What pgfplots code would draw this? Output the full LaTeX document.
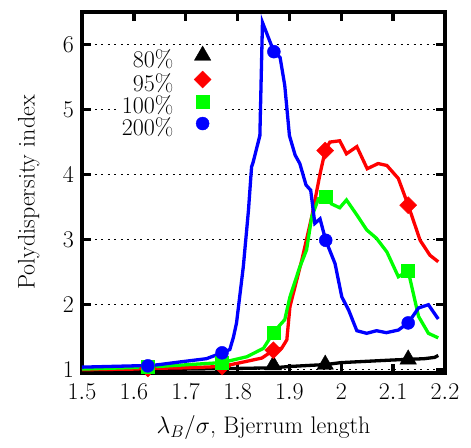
\RequirePackage{fix-cm}
\documentclass[border=0pt]{standalone}
\usepackage{pgfplots}
\pgfplotsset{compat=1.18}
\definecolor{gpred}{rgb}{1,0,0}
\definecolor{gpgreen}{rgb}{0,1,0}
\definecolor{gpblue}{rgb}{0,0,1}
\newcommand{\bigf}{\fontsize{24}{28}\selectfont}
\pgfplotsset{mk/.style={only marks,
  legend image code/.code={\path (0pt,0pt) (44pt,0pt); \draw[##1] plot coordinates {(27pt,7pt)};}}}
\begin{document}
\bigf
\begin{tikzpicture}
\begin{axis}[
  scale only axis, width=363pt, height=361pt,
  xmin=1.5, xmax=2.2, ymin=0.95, ymax=6.5,
  xtick={1.5,1.6,1.7,1.8,1.9,2,2.1,2.2},
  ytick={1,2,3,4,5,6},
  tick align=inside, major tick length=9pt,
  tick style={black, line width=3.5pt},
  axis line style={line width=4.5pt},
  ymajorgrids,
  major grid style={black, line width=0.8pt, dash pattern=on 2pt off 4.5pt},
  tick label style={font=\bigf},
  xticklabel style={yshift=-3pt},
  label style={font=\bigf},
  ylabel style={yshift=7pt},
  xlabel={$\lambda_B/\sigma$, Bjerrum length},
  ylabel={Polydispersity index},
  legend plot pos=right,
  legend cell align=right,
  legend style={at={(rel axis cs:0.383,0.909)}, anchor=north east, draw=none, fill=white,
    font=\bigf, row sep=-2.5pt, inner sep=1pt,
    nodes={inner ysep=0pt, inner xsep=2pt, text height=16pt, text depth=6pt}},
]
\coordinate (bl) at (rel axis cs:0,0);
\coordinate (tr) at (rel axis cs:1,1);
% 80%
\addplot[black, line width=3.3pt, no marks, forget plot] coordinates {
(1.500,1.00) (1.600,1.00) (1.700,1.01) (1.800,1.02) (1.870,1.03) (1.900,1.05)
(1.970,1.08) (2.000,1.11) (2.050,1.13) (2.100,1.15) (2.130,1.16) (2.160,1.17)
(2.180,1.19) (2.187,1.22)};
\addplot[mk, black, mark=triangle*, mark size=9.5pt] coordinates {
(1.627,1.00) (1.770,1.02) (1.869,1.07) (1.969,1.08) (2.129,1.16)};
\addlegendentry{80\%}
% 95%
\addplot[gpred, line width=3.3pt, no marks, forget plot] coordinates {
(1.500,1.00) (1.600,1.01) (1.627,1.02) (1.700,1.03) (1.770,1.05) (1.818,1.13)
(1.847,1.18) (1.869,1.30) (1.885,1.33) (1.895,1.46) (1.901,1.97) (1.924,2.69)
(1.943,3.35) (1.959,4.01) (1.969,4.37) (1.978,4.50) (1.997,4.52) (2.010,4.32)
(2.030,4.43) (2.050,4.09) (2.071,4.17) (2.088,4.14) (2.110,3.94) (2.129,3.53)
(2.152,2.99) (2.171,2.76) (2.187,2.66)};
\addplot[mk, gpred, mark=square*, mark options={rotate=45}, mark size=6pt] coordinates {
(1.627,1.02) (1.770,1.05) (1.869,1.30) (1.969,4.37) (2.129,3.53)};
\addlegendentry{95\%}
% 100%
\addplot[gpgreen, line width=3.3pt, no marks, forget plot] coordinates {
(1.500,1.01) (1.627,1.04) (1.708,1.08) (1.770,1.11) (1.818,1.20) (1.850,1.33)
(1.869,1.57) (1.882,1.69) (1.891,1.77) (1.901,2.12) (1.920,2.58) (1.933,2.84)
(1.943,3.35) (1.956,3.63) (1.970,3.66) (1.981,3.55) (1.997,3.49) (2.010,3.61)
(2.030,3.38) (2.049,3.15) (2.068,3.02) (2.088,2.81) (2.110,2.43) (2.129,2.52)
(2.149,1.82) (2.168,1.56) (2.187,1.49)};
\addplot[mk, gpgreen, mark=square*, mark size=6.5pt] coordinates {
(1.627,1.04) (1.770,1.11) (1.869,1.57) (1.970,3.66) (2.129,2.52)};
\addlegendentry{100\%}
% 200%
\addplot[gpblue, line width=3.3pt, no marks, forget plot] coordinates {
(1.500,1.04) (1.550,1.05) (1.600,1.06) (1.627,1.06) (1.650,1.08) (1.689,1.12)
(1.740,1.17) (1.770,1.26) (1.785,1.31) (1.792,1.50) (1.798,1.72) (1.811,2.58)
(1.821,3.45) (1.827,4.12) (1.830,4.19) (1.843,4.60) (1.848,6.34) (1.870,5.89)
(1.882,5.80) (1.891,5.37) (1.900,4.60) (1.911,4.30) (1.920,4.17) (1.932,3.84)
(1.941,3.76) (1.949,3.25) (1.959,3.32) (1.970,2.99) (1.980,2.79) (1.988,2.63)
(2.001,2.12) (2.014,1.92) (2.030,1.60) (2.049,1.56) (2.068,1.60) (2.087,1.57)
(2.110,1.61) (2.129,1.72) (2.149,1.95) (2.168,2.00) (2.187,1.78)};
\addplot[mk, gpblue, mark=*, mark size=6.5pt] coordinates {
(1.627,1.06) (1.770,1.26) (1.870,5.89) (1.970,2.99) (2.129,1.72)};
\addlegendentry{200\%}
\end{axis}
\path ([shift={(-82pt,-62pt)}]bl) rectangle ([shift={(26pt,12pt)}]tr);
\end{tikzpicture}
\end{document}
